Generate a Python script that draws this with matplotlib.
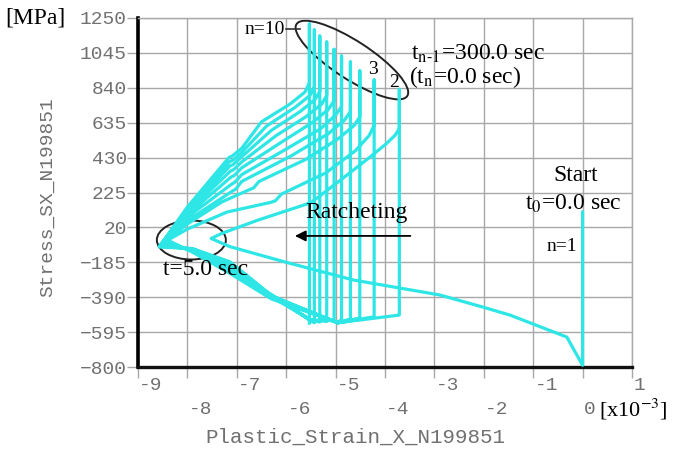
import numpy as np
import matplotlib
matplotlib.use('Agg')
import matplotlib.pyplot as plt
from matplotlib.patches import Ellipse
from matplotlib.transforms import ScaledTranslation

plt.rcParams['mathtext.fontset'] = 'stix'

# axis ticks
xticks = [-9, -8, -7, -6, -5, -4, -3, -2, -1, 0, 1]
yticks = [1250, 1045, 840, 635, 430, 225, 20, -185, -390, -595, -800]

# first loading: start -> first turning point (t=5.0 sec)
start_x = [0.0, 0.0, -0.32, -1.47, -2.02, -2.89, -4.64, -6.0, -7.14, -7.52]
start_y = [110, -790, -624, -495, -448, -377, -289, -185, -93, -45]

# peaks of the vertical branches (t_n-1 = 300 sec), labels 2 ... n=10
peak_x = [-3.71, -4.22, -4.51, -4.70, -4.88, -5.03, -5.18, -5.32, -5.43, -5.53]
peak_y = [831, 886, 939, 992, 1027, 1066, 1109, 1144, 1180, 1215]
bottom_y = [-495, -505, -512, -518, -522, -528, -532, -536, -540, -542]

# loading branches from the turning point up to each vertical
fan_x = [
    [-7.52, -7.3, -6.6, -5.5, -4.9, -4.3, -3.98, -3.8, -3.71],
    [-8.40, -8.0, -7.2, -6.3, -6.22, -6.1, -5.2, -4.6, -4.32, -4.22],
    [-8.45, -8.0, -7.3, -6.72, -6.66, -6.55, -5.6, -4.95, -4.62, -4.51],
    [-8.47, -8.0, -7.08, -7.02, -6.9, -5.9, -5.15, -4.82, -4.70],
    [-8.50, -8.0, -7.10, -7.04, -6.9, -6.0, -5.3, -5.0, -4.88],
    [-8.52, -8.0, -7.12, -7.05, -6.9, -6.1, -5.45, -5.14, -5.03],
    [-8.54, -8.0, -7.13, -7.06, -6.9, -6.2, -5.6, -5.28, -5.18],
    [-8.55, -8.0, -7.14, -7.07, -6.9, -6.3, -5.72, -5.42, -5.32],
    [-8.56, -8.0, -7.15, -7.08, -6.9, -6.4, -5.82, -5.52, -5.43],
    [-8.57, -8.0, -7.16, -7.09, -6.9, -6.5, -5.92, -5.62, -5.53],
]
fan_y = [
    [-45, -15, 60, 165, 298, 434, 510, 560, 600],
    [-55, 10, 110, 168, 176, 215, 340, 470, 560, 620],
    [-60, 40, 170, 245, 252, 290, 420, 540, 620, 670],
    [-65, 60, 235, 245, 290, 440, 570, 650, 700],
    [-70, 80, 275, 285, 330, 480, 600, 680, 730],
    [-75, 95, 315, 325, 370, 520, 640, 715, 765],
    [-80, 110, 350, 360, 405, 560, 670, 745, 795],
    [-85, 120, 380, 390, 435, 590, 700, 770, 820],
    [-90, 130, 405, 415, 460, 615, 725, 795, 845],
    [-95, 140, 430, 440, 485, 640, 745, 815, 870],
]

# unloading branches from the bottom of each vertical back to the next turning point
ret_x = [
    [-3.71, -4.95, -6.3, -7.14, -7.9],
    [-4.22, -4.95, -6.3, -7.14, -7.9],
    [-4.51, -4.95, -6.3, -7.14, -7.9],
    [-4.70, -4.95, -6.3, -7.14, -7.9],
    [-4.88, -4.97, -6.3, -7.14, -7.9],
    [-5.03, -5.50, -6.4, -7.14, -7.9],
    [-5.18, -5.50, -6.4, -7.14, -7.9],
    [-5.32, -5.50, -6.4, -7.14, -7.9],
    [-5.43, -5.52, -6.4, -7.14, -7.9],
]
ret_y = [
    [-495, -540, -400, -250, -125],
    [-505, -540, -395, -240, -120],
    [-512, -540, -390, -230, -118],
    [-518, -540, -385, -222, -115],
    [-522, -540, -380, -215, -112],
    [-528, -524, -370, -205, -110],
    [-532, -524, -365, -198, -108],
    [-536, -524, -360, -190, -106],
    [-540, -526, -355, -182, -104],
]

# build one continuous path
px, py = list(start_x), list(start_y)
for j in range(len(peak_x)):
    px += fan_x[j][1:] + [peak_x[j], peak_x[j]]
    py += fan_y[j][1:] + [peak_y[j], bottom_y[j]]
    if j < len(ret_x):
        px += ret_x[j][1:]
        py += ret_y[j][1:]
        px.append(fan_x[j + 1][0])
        py.append(fan_y[j + 1][0])

fig = plt.figure(figsize=(6.74, 4.53), dpi=100)
ax = fig.add_axes([138 / 674, 86 / 453, 494 / 674, 349 / 453])

grey = '#a8a8a8'
ax.set_xlim(-9, 1)
ax.set_ylim(-800, 1250)
ax.set_xticks(xticks)
ax.set_yticks(yticks)
ax.grid(True, color=grey, lw=1)
ax.set_axisbelow(True)
ax.tick_params(axis='both', length=8, width=1, color=grey, direction='out')
ax.tick_params(axis='x', labelbottom=False)
ax.tick_params(axis='y', pad=0, labelsize=14, labelcolor='#707070')
for lab in ax.get_yticklabels():
    lab.set_fontfamily('Liberation Mono')
for s in ['top', 'right']:
    ax.spines[s].set_color(grey)
    ax.spines[s].set_linewidth(1)
ax.spines['left'].set_linewidth(2.6)
ax.spines['left'].set_color('black')
ax.spines['bottom'].set_linewidth(2.4)
ax.spines['bottom'].set_color('#111111')

ax.plot(px, py, color='#2ee6e6', lw=2.3, solid_joinstyle='round', zorder=3)

# x tick labels on two rows
mono = dict(fontfamily='Liberation Mono', fontsize=14, color='#707070')
for v in xticks:
    row = 19 if v % 2 else 43
    dx = 13 if v < 0 else 7
    ax.annotate(str(v), xy=(v, 0), xycoords=('data', 'axes fraction'),
                xytext=(dx, -row), textcoords='offset pixels',
                ha='center', va='center', **mono)

fig.text(48 / 674, 1 - 197 / 453, 'Stress_SX_N199851', rotation=90,
         ha='center', va='center', **mono)
fig.text(355 / 674, 1 - 437 / 453, 'Plastic_Strain_X_N199851',
         ha='center', va='center', fontfamily='Liberation Mono', fontsize=15, color='#707070')

serif = dict(fontfamily='Liberation Serif', color='black')
fig.text(5 / 674, 1 - 18 / 453, '[MPa]', ha='left', va='center', fontsize=17, **serif)
fig.text(599 / 674, 1 - 409 / 453, '[x10$^{-3}$]', ha='left', va='center', fontsize=16, **serif)

ax.text(-6.43, 1185, 'n=10', ha='center', va='center', fontsize=14, **serif)
ax.plot([-6.0, -5.72], [1185, 1185], color='#333333', lw=1.2)
ax.text(-4.24, 945, '3', ha='center', va='center', fontsize=14, **serif)
ax.text(-3.82, 874, '2', ha='center', va='center', fontsize=14, **serif)
ax.text(-3.47, 1040, 't$_{\\mathrm{n\\text{-}1}}$=300.0 sec', ha='left', va='center', fontsize=17, **serif)
ax.text(-3.51, 905, '(t$_{\\mathrm{n}}$=0.0 sec)', ha='left', va='center', fontsize=17, **serif)
ax.text(-0.15, 322, 'Start', ha='center', va='center', fontsize=17, **serif)
ax.text(-1.17, 160, 't$_0$=0.0 sec', ha='left', va='center', fontsize=17, **serif)
ax.text(-0.42, -95, 'n=1', ha='center', va='center', fontsize=14, **serif)
ax.text(-8.49, -230, 't=5.0 sec', ha='left', va='center', fontsize=17, **serif)
ax.text(-4.57, 105, 'Ratcheting', ha='center', va='center', fontsize=17, **serif)
ax.annotate('', xy=(-5.88, -30), xytext=(-3.43, -30),
            arrowprops=dict(arrowstyle='-|>', color='black', lw=1.3, mutation_scale=16))

# ellipses marking the peaks and the turning points
e1 = Ellipse((0, 0), 1.32, 0.38, angle=-33, fill=False, ec='#222222', lw=1.4,
             transform=fig.dpi_scale_trans + ScaledTranslation(-4.67, 1003, ax.transData))
e2 = Ellipse((0, 0), 0.69, 0.39, fill=False, ec='#222222', lw=1.4,
             transform=fig.dpi_scale_trans + ScaledTranslation(-7.92, -54, ax.transData))
ax.add_artist(e1)
ax.add_artist(e2)

fig.savefig('out.png', dpi=100)
